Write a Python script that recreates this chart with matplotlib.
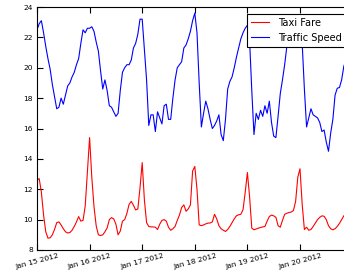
import pandas as pd
import matplotlib
matplotlib.use("Agg")
from matplotlib import pyplot as plt

# hourly values starting Jan 15 2012 00:00
start = "2012-01-15"

taxi_fare = [
    12.6, 12.7, 11.8, 10.3, 9.2, 8.78, 8.8, 9.0, 9.35, 9.8, 9.85, 9.65,
    9.4, 9.2, 9.12, 9.15, 9.3, 9.55, 9.85, 10.2, 9.9, 9.95, 10.9, 13.2,
    15.4, 12.8, 10.86, 9.6, 9.0, 8.95, 9.0, 9.2, 9.45, 10.0, 10.13, 10.05,
    9.7, 9.0, 9.25, 9.9, 10.0, 10.4, 11.0, 11.2, 10.95, 10.64, 10.7, 12.1,
    13.75, 11.3, 9.8, 9.55, 9.52, 9.52, 9.5, 9.35, 9.7, 9.95, 10.0, 9.9,
    9.5, 9.3, 9.4, 9.55, 9.95, 10.3, 10.8, 10.97, 10.55, 10.7, 10.97, 13.2,
    13.5, 12.0, 9.65, 9.6, 9.65, 9.72, 9.77, 9.78, 9.85, 10.35, 10.05, 9.6,
    9.4, 9.3, 9.22, 9.35, 9.55, 9.8, 10.05, 10.25, 10.32, 10.35, 10.65, 11.8,
    13.1, 11.5, 9.44, 9.33, 9.38, 9.44, 9.48, 9.52, 9.55, 9.9, 10.2, 10.3,
    10.25, 10.15, 9.6, 9.5, 9.95, 10.35, 10.42, 10.47, 10.5, 10.6, 11.2, 12.8,
    13.35, 11.0, 9.35, 9.5, 9.3, 9.35, 9.55, 9.78, 10.0, 10.15, 10.25, 10.22,
    10.0, 9.6, 9.4, 9.33, 9.4, 9.55, 9.75, 10.0, 10.25, 10.4,
]

traffic_speed = [
    22.5, 22.9, 23.1, 22.3, 21.4, 20.6, 19.9, 18.9, 18.1, 17.3, 17.4, 18.0,
    17.6, 18.2, 18.8, 19.0, 19.4, 19.7, 20.2, 20.6, 21.6, 22.5, 22.3, 22.6,
    22.6, 22.7, 22.4, 21.7, 21.1, 19.8, 18.6, 19.2, 18.5, 17.5, 17.4, 17.1,
    16.8, 17.0, 18.5, 19.7, 20.0, 20.2, 20.2, 20.5, 21.3, 21.6, 22.2, 23.2,
    23.2, 21.2, 19.2, 16.2, 16.9, 16.9, 15.8, 17.1, 16.7, 16.3, 17.5, 17.6,
    16.6, 16.6, 18.0, 19.2, 20.0, 20.2, 20.4, 21.3, 21.5, 21.9, 22.4, 23.1,
    23.6, 22.3, 19.0, 16.1, 17.0, 17.8, 17.3, 16.6, 16.0, 16.2, 16.5, 16.9,
    15.6, 15.2, 16.6, 18.6, 19.1, 19.4, 20.0, 20.7, 21.3, 21.9, 22.3, 22.6,
    22.8, 21.8, 18.5, 15.6, 17.0, 16.6, 17.2, 16.8, 17.5, 17.0, 17.8, 16.4,
    15.5, 15.4, 16.8, 18.3, 19.2, 20.2, 21.4, 21.9, 22.3, 22.8, 23.1, 23.4,
    23.5, 21.6, 18.6, 16.1, 16.7, 17.3, 16.9, 16.8, 16.7, 16.4, 15.8, 15.9,
    15.1, 14.5, 15.7, 16.6, 18.2, 18.65, 18.7, 19.2, 20.1, 20.5,
]

tick_labels = ["Jan 15 2012", "Jan 16 2012", "Jan 17 2012",
               "Jan 18 2012", "Jan 19 2012", "Jan 20 2012"]

times = pd.date_range(start, periods=len(taxi_fare), freq="h")

fig = plt.figure(figsize=(3.44, 2.73), dpi=100, facecolor="white")
# axes run a little past the right edge of the picture, like the original crop
ax = fig.add_axes([37 / 344, 23 / 273, 316 / 344, 243 / 273])

ax.plot(times, taxi_fare, color="r", lw=0.8, label="Taxi Fare")
ax.plot(times, traffic_speed, color="b", lw=0.8, label="Traffic Speed")

ax.set_ylim(8, 24)
ax.set_yticks(range(8, 25, 2))
t0 = pd.Timestamp(start)
ax.set_xlim(t0, t0 + pd.Timedelta(days=316 / 52.6))
ax.set_xticks(pd.date_range(start, periods=len(tick_labels), freq="D"))
ax.set_xticklabels(tick_labels, rotation=15, ha="center")
ax.tick_params(direction="in", top=True, right=True, length=4,
               labelsize=5.4, pad=3)
ax.tick_params(axis="x", pad=2)
for s in ax.spines.values():
    s.set_linewidth(0.8)

leg = ax.legend(loc="upper right", fontsize=7.1, fancybox=False,
                framealpha=1, edgecolor="black", handlelength=1.85,
                handletextpad=0.9, borderaxespad=0.7)
leg.get_frame().set_linewidth(0.8)

fig.savefig("out.png", dpi=100, facecolor="white")
